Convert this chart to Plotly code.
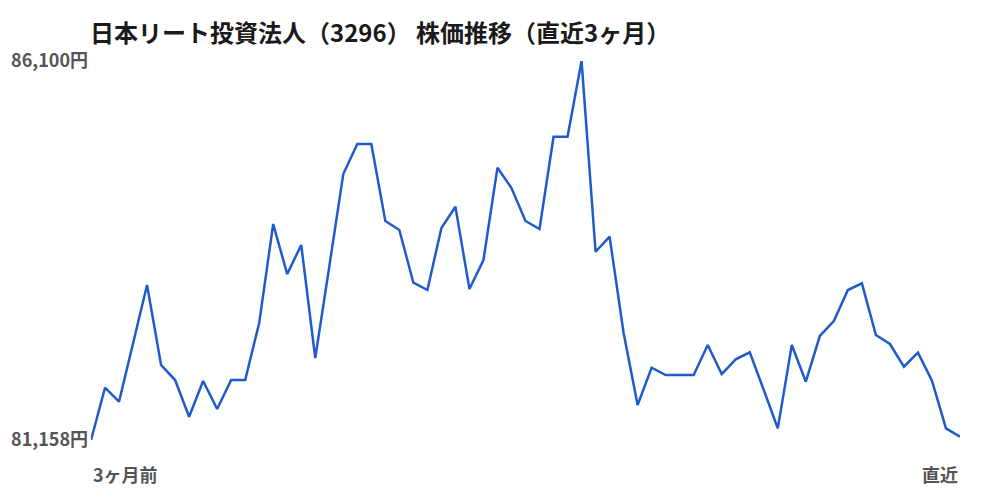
import plotly.graph_objects as go

# 株価（円）直近3ヶ月、営業日ごと
prices = [
    81158, 81840, 81657, 82423, 83179, 82136, 81940, 81462, 81927, 81562,
    81940, 81940, 82684, 83974, 83322, 83701, 82227, 83418, 84626, 85018,
    85018, 84014, 83896, 83209, 83114, 83922, 84200, 83127, 83505, 84709,
    84444, 84014, 83909, 85113, 85113, 86100, 83613, 83809, 82553, 81614,
    82101, 82005, 82005, 82005, 82397, 82018, 82210, 82301, 81810, 81310,
    82397, 81918, 82514, 82710, 83114, 83201, 82527, 82410, 82114, 82296,
    81931, 81310, 81201,
]
days = list(range(len(prices)))
title = "日本リート投資法人（3296） 株価推移（直近3ヶ月）"
start_label = "3ヶ月前"
end_label = "直近"

ymin, ymax = min(prices), max(prices)
font = "Noto Sans CJK JP"

fig = go.Figure()
fig.add_trace(go.Scatter(
    x=days, y=prices, mode="lines",
    line=dict(color="#1f5bcc", width=2.5),
    cliponaxis=False, hoverinfo="skip",
))

# ページ本体の8pxマージン分を差し引いて配置
fig.update_layout(
    width=1000, height=500,
    margin=dict(l=83, r=48, t=53, b=68),
    paper_bgcolor="white", plot_bgcolor="white",
    showlegend=False,
    title=dict(
        text=f"<b>{title}</b>", x=82 / 1000, xanchor="left",
        y=1 - 26 / 500, yanchor="middle",
        font=dict(family=font, size=24, color="#1a1a1a"),
    ),
    font=dict(family=font),
)
fig.update_xaxes(
    range=[0, len(prices) - 1], showgrid=False, zeroline=False,
    showticklabels=False, showline=False, automargin=False,
)
fig.update_yaxes(
    range=[ymin, ymax], showgrid=False, zeroline=False, showline=False,
    tickvals=[ymin, ymax],
    ticktext=[f"<b>{v:,}円</b>" for v in [ymin, ymax]],
    tickfont=dict(family=font, size=18, color="#555555"),
    ticklabelstandoff=2, automargin=False,
)
fig.add_annotation(
    x=0, y=0, xref="x", yref="paper", yshift=-34,
    text=f"<b>{start_label}</b>", showarrow=False,
    xanchor="left", yanchor="middle",
    font=dict(family=font, size=18, color="#555555"),
)
fig.add_annotation(
    x=len(prices) - 1, y=0, xref="x", yref="paper", yshift=-34,
    text=f"<b>{end_label}</b>", showarrow=False,
    xanchor="right", yanchor="middle",
    font=dict(family=font, size=18, color="#555555"),
)

fig.write_html("out.html")
